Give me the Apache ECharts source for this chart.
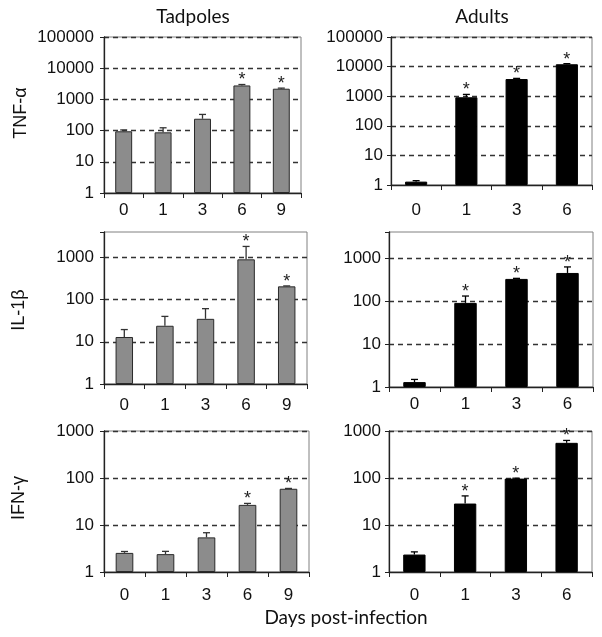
<!DOCTYPE html>
<html>
<head>
<meta charset="utf-8">
<script src="https://cdn.jsdelivr.net/npm/echarts@6/dist/echarts.min.js"></script>
<style>
html,body{margin:0;padding:0;background:#fff;}
#chart{width:602px;height:637px;}
</style>
</head>
<body>
<div id="chart"></div>
<script>
// ---- data ----
const tadpoleDays = ['0', '1', '3', '6', '9'];
const adultDays = ['0', '1', '3', '6'];

const tnfTadpole = [95, 88, 240, 2800, 2200];
const tnfTadpoleErr = [10, 35, 90, 200, 100];
const tnfTadpoleSig = [0, 0, 0, 1, 1];

const tnfAdult = [1.3, 920, 3800, 12000];
const tnfAdultErr = [0.1, 230, 200, 600];
const tnfAdultSig = [0, 1, 1, 1];

const il1Tadpole = [13, 24, 35, 900, 206];
const il1TadpoleErr = [6.5, 16, 26, 920, 5];
const il1TadpoleSig = [0, 0, 0, 1, 1];

const il1Adult = [1.3, 90, 325, 447];
const il1AdultErr = [0.2, 40, 10, 170];
const il1AdultSig = [0, 1, 1, 1];

const ifnTadpole = [2.55, 2.4, 5.45, 26.8, 59];
const ifnTadpoleErr = [0.18, 0.35, 1.4, 2, 1];
const ifnTadpoleSig = [0, 0, 0, 1, 1];

const ifnAdult = [2.35, 28.6, 97, 560];
const ifnAdultErr = [0.33, 13, 2, 70];
const ifnAdultSig = [0, 1, 1, 1];

const yMaxTNF = 100000;
const yMaxIL1 = 4000;
const yMaxIFN = 1000;

const columnTitles = ['Tadpoles', 'Adults'];
const rowTitles = ['TNF-\u03B1', 'IL-1\u03B2', 'IFN-\u03B3'];
const xTitle = 'Days post-infection';

// ---- panels ----
const panels = [
  {cats: tadpoleDays, vals: tnfTadpole, err: tnfTadpoleErr, sig: tnfTadpoleSig, max: yMaxTNF, adult: false,
   grid: {left: 104, top: 37, width: 197, height: 156}, xMargin: 9, yMargin: 10},
  {cats: adultDays, vals: tnfAdult, err: tnfAdultErr, sig: tnfAdultSig, max: yMaxTNF, adult: true,
   grid: {left: 391, top: 37, width: 201, height: 148}, xMargin: 17, yMargin: 8},
  {cats: tadpoleDays, vals: il1Tadpole, err: il1TadpoleErr, sig: il1TadpoleSig, max: yMaxIL1, adult: false,
   grid: {left: 104, top: 232, width: 203, height: 152}, xMargin: 13, yMargin: 10},
  {cats: adultDays, vals: il1Adult, err: il1AdultErr, sig: il1AdultSig, max: yMaxIL1, adult: true,
   grid: {left: 389, top: 232, width: 204, height: 155}, xMargin: 9, yMargin: 8},
  {cats: tadpoleDays, vals: ifnTadpole, err: ifnTadpoleErr, sig: ifnTadpoleSig, max: yMaxIFN, adult: false,
   grid: {left: 104, top: 431, width: 205, height: 141}, xMargin: 15, yMargin: 10},
  {cats: adultDays, vals: ifnAdult, err: ifnAdultErr, sig: ifnAdultSig, max: yMaxIFN, adult: true,
   grid: {left: 389, top: 431, width: 203, height: 141}, xMargin: 15, yMargin: 8}
];

const tickFont = 'Liberation Sans, Arial, sans-serif';
const titleFont = 'Lato, Open Sans, sans-serif';

function isPow10(v) {
  const l = Math.log10(v);
  return Math.abs(l - Math.round(l)) < 1e-6;
}

const grids = [], xAxes = [], yAxes = [], series = [];
panels.forEach(function (p, i) {
  grids.push(Object.assign({show: true, borderColor: '#808080', borderWidth: 1, containLabel: false}, p.grid));
  xAxes.push({
    type: 'category', gridIndex: i, data: p.cats,
    axisLine: {show: true, lineStyle: {color: '#222', width: 1.3}},
    axisTick: {show: true, alignWithLabel: false, length: 5, lineStyle: {color: '#222'}},
    axisLabel: {fontFamily: tickFont, fontSize: 17, color: '#111', margin: p.xMargin},
    splitLine: {show: false}
  });
  yAxes.push({
    type: 'log', logBase: 10, gridIndex: i, min: 1, max: p.max,
    axisLine: {show: true, lineStyle: {color: '#222', width: 1.3}},
    axisTick: {show: true, length: 4, lineStyle: {color: '#222'}},
    axisLabel: {
      fontFamily: tickFont, fontSize: 17, color: '#111', margin: p.yMargin,
      showMaxLabel: true,
      formatter: function (v) { return isPow10(v) ? String(Math.round(v)) : ''; }
    },
    splitLine: {show: true, showMinLine: false, showMaxLine: isPow10(p.max),
      lineStyle: {color: '#333', type: [5, 4], width: 1.3}}
  });
  series.push({
    type: 'bar', xAxisIndex: i, yAxisIndex: i,
    data: p.vals,
    barWidth: p.adult ? '44%' : '43%',
    itemStyle: p.adult ? {color: '#000', borderColor: '#000', borderWidth: 1}
                       : {color: '#8c8c8c', borderColor: '#2a2a2a', borderWidth: 1},
    silent: true, animation: false
  });
  series.push({
    type: 'custom', xAxisIndex: i, yAxisIndex: i, clip: false, animation: false, silent: true, z: 5,
    data: p.vals.map(function (v, k) { return [k, v, p.err[k], p.sig[k]]; }),
    encode: {x: 0, y: 1},
    renderItem: function (params, api) {
      const idx = api.value(0), v = api.value(1), e = api.value(2), s = api.value(3);
      const p0 = api.coord([idx, v]);
      const p1 = api.coord([idx, v + e]);
      const col = p.adult ? '#000' : '#333';
      const children = [
        {type: 'line', shape: {x1: p0[0], y1: p0[1], x2: p1[0], y2: p1[1]}, style: {stroke: col, lineWidth: 1.3}},
        {type: 'line', shape: {x1: p1[0] - 3.5, y1: p1[1], x2: p1[0] + 3.5, y2: p1[1]}, style: {stroke: col, lineWidth: 1.3}}
      ];
      if (s) {
        children.push({type: 'text', x: p1[0], y: p1[1] - 4,
          style: {text: '*', fontSize: 18, fontFamily: tickFont, fill: '#222', textAlign: 'center', textVerticalAlign: 'middle'}});
      }
      return {type: 'group', children: children};
    }
  });
});

const graphics = [
  {type: 'text', x: 193, y: 17, style: {text: columnTitles[0], font: '19px ' + titleFont, fill: '#111', textAlign: 'center', textVerticalAlign: 'middle'}},
  {type: 'text', x: 482, y: 17, style: {text: columnTitles[1], font: '19px ' + titleFont, fill: '#111', textAlign: 'center', textVerticalAlign: 'middle'}},
  {type: 'text', x: 346, y: 618, style: {text: xTitle, font: '19px ' + titleFont, fill: '#111', textAlign: 'center', textVerticalAlign: 'middle'}},
  {type: 'text', x: 21, y: 113, rotation: Math.PI / 2, style: {text: rowTitles[0], font: '18px ' + tickFont, fill: '#111', textAlign: 'center', textVerticalAlign: 'middle'}},
  {type: 'text', x: 19, y: 310, rotation: Math.PI / 2, style: {text: rowTitles[1], font: '18px ' + tickFont, fill: '#111', textAlign: 'center', textVerticalAlign: 'middle'}},
  {type: 'text', x: 19, y: 498, rotation: Math.PI / 2, style: {text: rowTitles[2], font: '18px ' + tickFont, fill: '#111', textAlign: 'center', textVerticalAlign: 'middle'}}
];

const chart = echarts.init(document.getElementById('chart'), null, {renderer: 'canvas'});
chart.setOption({
  backgroundColor: '#fff',
  animation: false,
  grid: grids,
  xAxis: xAxes,
  yAxis: yAxes,
  series: series,
  graphic: graphics
});
</script>
</body>
</html>
